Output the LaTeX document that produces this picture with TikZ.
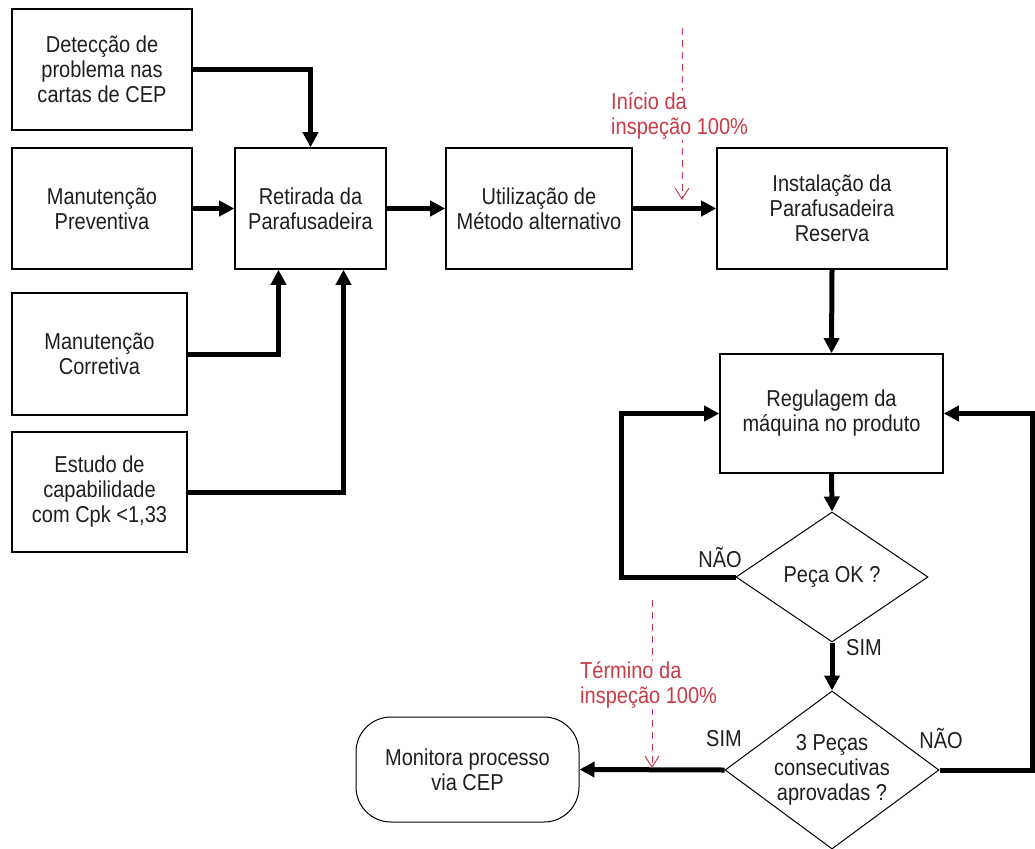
\documentclass[tikz,border=0pt]{standalone}
\usepackage{fontspec}
\setmainfont{Liberation Sans}[FakeStretch=0.87]
\usetikzlibrary{arrows.meta,shapes.geometric}
\definecolor{redann}{RGB}{200,60,72}
\definecolor{ink}{RGB}{30,30,30}
\begin{document}
\begin{tikzpicture}[x=1pt,y=-1pt,
  font=\fontsize{23}{25}\selectfont,
  box/.style={draw, line width=1.6pt, inner sep=0pt, align=center, text=ink},
  dec/.style={draw, shape=diamond, line width=1pt, inner sep=0pt, align=center, text=ink},
  term/.style={draw, rounded corners=35pt, line width=1pt, inner sep=0pt, align=center, text=ink},
  flow/.style={line width=5pt, -{Triangle[length=15pt,width=15pt]}},
  ann/.style={redann, line width=1pt, dash pattern=on 7pt off 5pt, -{Straight Barb[length=11pt,width=14pt]}},
  anntext/.style={text=redann, align=left, anchor=west, fill=white, inner sep=1pt},
  lbl/.style={text=ink, inner sep=0pt}
]
\useasboundingbox (0,0) rectangle (1035,848);

% boxes
\node[box, minimum width=180pt, minimum height=121pt] (det) at (102,69.5) {Detecção de\\problema nas\\cartas de CEP};
\node[box, minimum width=180pt, minimum height=121pt] (prev) at (102,208.5) {Manutenção\\Preventiva};
\node[box, minimum width=151pt, minimum height=121pt] (ret) at (310.5,208.5) {Retirada da\\Parafusadeira};
\node[box, minimum width=186pt, minimum height=121pt] (uti) at (539,208.5) {Utilização de\\Método alternativo};
\node[box, minimum width=230pt, minimum height=121pt] (ins) at (832,208.5) {Instalação da\\Parafusadeira\\Reserva};
\node[box, minimum width=175pt, minimum height=122pt] (cor) at (99.5,354) {Manutenção\\Corretiva};
\node[box, minimum width=175pt, minimum height=120pt] (est) at (99.5,492) {Estudo de\\capabilidade\\com Cpk <1,33};
\node[box, minimum width=223pt, minimum height=119pt] (reg) at (831.5,413.5) {Regulagem da\\máquina no produto};
\node[dec, minimum width=192pt, minimum height=130pt] (pok) at (832,577) {Peça OK ?};
\node[dec, minimum width=214pt, minimum height=158pt,
      label={[align=center,text=ink]center:3 Peças\\consecutivas\\aprovadas ?}] (tres) at (832,770) {};
\node[term, minimum width=223pt, minimum height=105pt] (mon) at (467.5,769.5) {Monitora processo\\via CEP};

% labels
\node[lbl] (nao1) at (720,558) {NÃO};
\node[lbl] (sim1) at (864,648) {SIM};
\node[lbl] (sim2) at (724,739) {SIM};
\node[lbl] (nao2) at (941,739) {NÃO};

% connectors
\draw[flow] (det.east) -| (ret.north);
\draw[flow] (prev.east) -- (ret.west);
\draw[flow] (cor.east) -| ([xshift=-32pt]ret.south);
\draw[flow] (est.east) -| ([xshift=33pt]ret.south);
\draw[flow] (ret.east) -- (uti.west);
\draw[flow] (uti.east) -- (ins.west);
\draw[flow] (ins.south) -- (reg.north);
\draw[flow] (reg.south) -- (pok.north);
\coordinate (lp) at (621,577);
\draw[flow] (pok.west) -- (lp) |- (reg.west);
\draw[flow] (pok.south) -- (tres.north);
\draw[flow] (tres.west) -- (mon.east);
\coordinate (rp) at (1032.5,770);
\draw[flow] (tres.east) -- (rp) |- (reg.east);

% red annotations
\coordinate (a1) at (682,28);
\coordinate (a2) at (682,200);
\draw[ann] (a1) -- (a2);
\node[anntext] (atext) at (610,115.5) {Início da\\inspeção 100\%};
\coordinate (b1) at (652,600);
\coordinate (b2) at (652,768);
\draw[ann] (b1) -- (b2);
\node[anntext] (btext) at (579,685) {Término da\\inspeção 100\%};
\end{tikzpicture}
\end{document}
